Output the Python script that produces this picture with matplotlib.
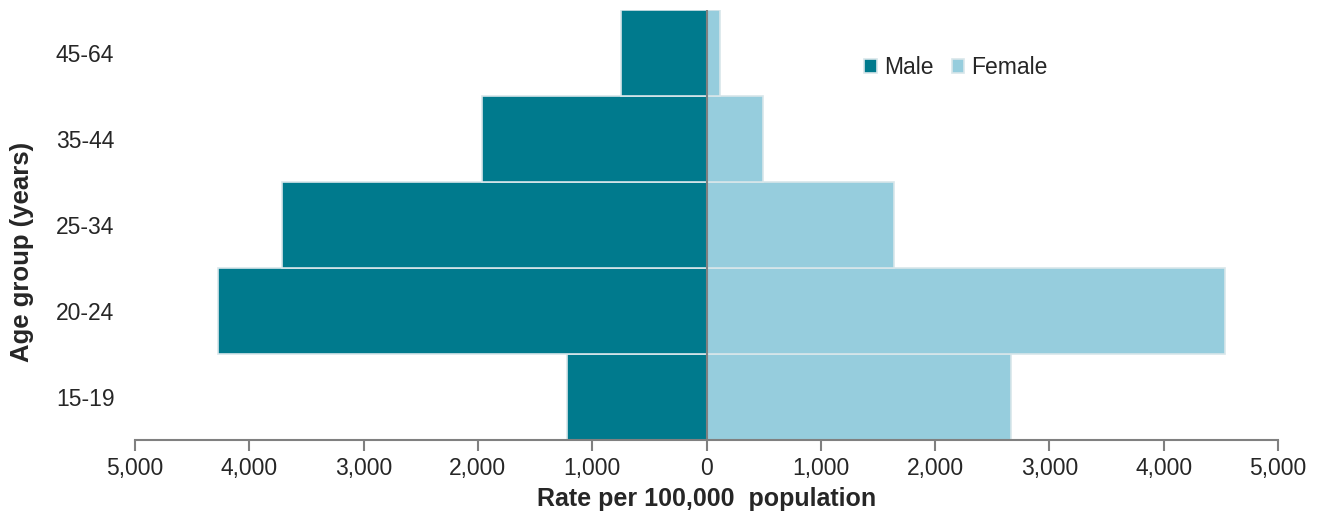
import matplotlib.pyplot as plt
import numpy as np
from matplotlib.ticker import FuncFormatter

plt.rcParams['font.family'] = ['Liberation Sans', 'DejaVu Sans']

age_groups = ['15-19', '20-24', '25-34', '35-44', '45-64']
male = [1225, 4270, 3710, 1960, 752]
female = [2660, 4540, 1636, 490, 122]

male_col = '#007A8D'
female_col = '#96CDDD'

fig = plt.figure(figsize=(13.21, 5.25), dpi=100)
ax = fig.add_axes([0.1022, 0.162, 0.8653, 0.819])

y = np.arange(len(age_groups))
ax.barh(y, -np.array(male), height=1.0, color=male_col, edgecolor='#d8e6ea',
        linewidth=1.2, label='Male')
ax.barh(y, female, height=1.0, color=female_col, edgecolor='#d8e6ea',
        linewidth=1.2, label='Female')
ax.axvline(0, color='#808080', linewidth=1.5)

ax.set_xlim(-5000, 5000)
ax.set_ylim(-0.5, 4.5)
ax.set_xticks(np.arange(-5000, 5001, 1000))
ax.xaxis.set_major_formatter(FuncFormatter(lambda v, p: f'{abs(int(v)):,}'))
ax.set_yticks(y)
ax.set_yticklabels(age_groups)

for s in ['top', 'right', 'left']:
    ax.spines[s].set_visible(False)
ax.spines['bottom'].set_color('#808080')
ax.spines['bottom'].set_linewidth(1.5)
ax.tick_params(axis='x', length=8, width=1.5, color='#808080', labelsize=16.5,
               labelcolor='#262626', pad=4)
ax.tick_params(axis='y', length=0, labelsize=16.5, labelcolor='#262626', pad=57)
for t in ax.get_yticklabels():
    t.set_horizontalalignment('left')

ax.set_xlabel('Rate per 100,000  population', fontsize=18, fontweight='bold',
              color='#262626', labelpad=5)
# y label sits a bit below the axes centre in the original
fig.text(0.017, 0.52, 'Age group (years)', rotation=90, ha='center', va='center',
         fontsize=18.5, fontweight='bold', color='#262626')

ax.legend(loc='upper left', bbox_to_anchor=(0.62, 0.94), ncol=2, frameon=False,
          fontsize=16.5, handlelength=0.55, handleheight=0.55, handletextpad=0.3,
          columnspacing=0.8, labelcolor='#262626')

fig.savefig('out.png', dpi=100)
